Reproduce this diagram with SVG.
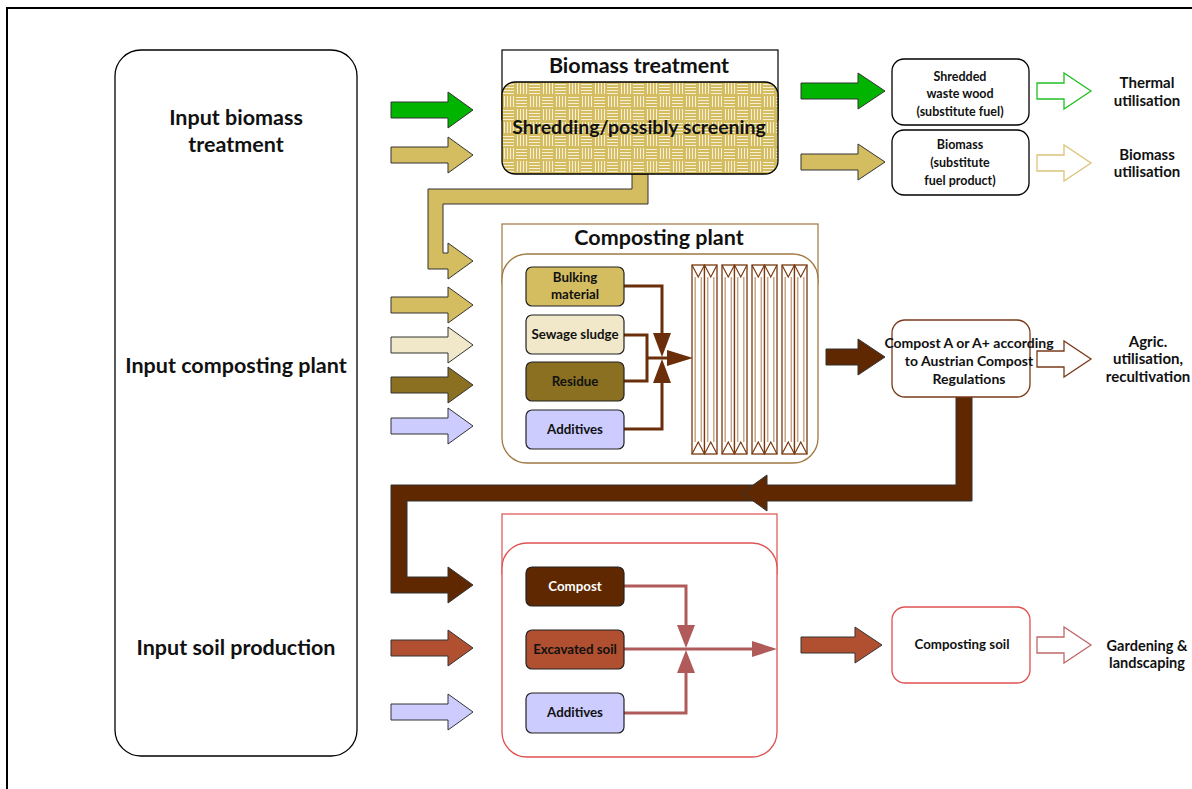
<svg xmlns="http://www.w3.org/2000/svg" xmlns:xlink="http://www.w3.org/1999/xlink" width="1192" height="789" viewBox="0 0 1192 789">
<style>
text{font-family:Lato,"Open Sans","Liberation Sans",sans-serif;font-weight:bold;fill:#111;text-anchor:middle}
.big{font-size:21.5px}
.mid{font-size:15px}
.sm{font-size:13.3px}
.xs{font-size:12.5px}
.blk{stroke:#333;stroke-width:1}
.hollow{fill:#fff;stroke-width:1.3}
.cp{fill:none;stroke:#6b2e0a;stroke-width:3}
.sp{fill:none;stroke:#b05a5a;stroke-width:3}
.ibox{stroke:#222;stroke-width:1.2}
</style>
<defs>
<pattern id="weave" x="502" y="82" width="26" height="26" patternUnits="userSpaceOnUse">
<rect width="26" height="26" fill="#d4bc60"/>
<g stroke="#f7f0d6" stroke-width="1.1">
<path d="M1 2.5H12M1 5.5H12M1 8.5H12M1 11.5H12"/>
<path d="M15.5 1V12M18.5 1V12M21.5 1V12M24.5 1V12"/>
<path d="M2.5 14V25M5.5 14V25M8.5 14V25M11.5 14V25"/>
<path d="M14 15.5H25M14 18.5H25M14 21.5H25M14 24.5H25"/>
</g>
</pattern>
<g id="col">
<rect x="0" y="0" width="12.5" height="189" fill="#fff" stroke="#7a3a10" stroke-width="1.3"/>
<path d="M3.2 12V177M9.3 12V177" stroke="#c8a68a" stroke-width="1.5"/>
<path d="M0 0L6.25 12L12.5 0M0 189L6.25 177L12.5 189" fill="none" stroke="#7a3a10" stroke-width="1.2"/>
</g>
</defs>
<rect width="1192" height="789" fill="#fff"/>
<path d="M1192 8H7V789" fill="none" stroke="#000" stroke-width="2"/>

<g id="input-column">
<rect x="115" y="50" width="242" height="706" rx="26" fill="#fff" stroke="#000" stroke-width="1.3"/>
<text class="big" x="236" y="125">Input biomass</text>
<text class="big" x="236" y="152">treatment</text>
<text class="big" x="236" y="373">Input composting plant</text>
<text class="big" x="236" y="655">Input soil production</text>
</g>

<g id="connectors">
<polygon class="blk" fill="#00b400" points="391,102 448,102 448,92 473,110 448,128 448,118 391,118"/>
<polygon class="blk" fill="#d4bc60" points="391,147 448,147 448,137 473,155 448,173 448,163 391,163"/>
<polygon class="blk" fill="#d4bc60" points="391,297 448,297 448,287 473,305 448,323 448,313 391,313"/>
<polygon class="blk" fill="#f0e8c8" points="391,337 448,337 448,327 473,345 448,363 448,353 391,353"/>
<polygon class="blk" fill="#8a7020" points="391,377 448,377 448,367 473,385 448,403 448,393 391,393"/>
<polygon class="blk" fill="#ccccff" points="391,418 448,418 448,408 473,426 448,444 448,434 391,434"/>
<polygon class="blk" fill="#b05030" points="391,640 448,640 448,630 473,648 448,666 448,656 391,656"/>
<polygon class="blk" fill="#ccccff" points="391,704 448,704 448,694 473,712 448,730 448,720 391,720"/>
<polygon class="blk" fill="#d4bc60" points="632,174 648,174 648,204 443,204 443,253 448,253 448,243 473,261 448,279 448,269 428,269 428,189 632,189"/>
<polygon class="blk" fill="#00b400" points="801,83 858,83 858,73 885,91 858,109 858,99 801,99"/>
<polygon class="blk" fill="#d4bc60" points="801,154 858,154 858,144 885,162 858,180 858,170 801,170"/>
<polygon class="blk" fill="#602800" points="826,349 858,349 858,339 885,357 858,375 858,365 826,365"/>
<polygon class="blk" fill="#602800" points="956,397 972,397 972,501 407,501 407,577 448,577 448,567 473,585 448,603 448,593 391,593 391,485 956,485"/>
<polyline class="blk" fill="#602800" points="767,485 767,475 742,493 767,511 767,501"/>
<polygon class="blk" fill="#b05030" points="801,637 855,637 855,627 882,645 855,663 855,653 801,653"/>
<polygon class="hollow" stroke="#22c022" points="1037,83 1064,83 1064,73 1091,91 1064,109 1064,99 1037,99"/>
<polygon class="hollow" stroke="#dcc47a" points="1037,155 1064,155 1064,145 1091,163 1064,181 1064,171 1037,171"/>
<polygon class="hollow" stroke="#7a3a1a" points="1037,351 1064,351 1064,341 1091,359 1064,377 1064,367 1037,367"/>
<polygon class="hollow" stroke="#c06868" points="1037,637 1064,637 1064,627 1091,645 1064,663 1064,653 1037,653"/>
</g>

<g id="biomass-treatment">
<rect x="502" y="50" width="276" height="70" fill="#fff" stroke="#000" stroke-width="1.2"/>
<text class="big" x="639" y="73">Biomass treatment</text>
<rect x="502" y="82" width="276" height="92" rx="13" fill="url(#weave)" stroke="#000" stroke-width="1.3"/>
<text x="639" y="134" style="font-size:19.5px">Shredding/possibly screening</text>
</g>

<g id="shredded-wood">
<rect x="892" y="59" width="137" height="66" rx="12" fill="#fff" stroke="#000" stroke-width="1.3"/>
<text class="xs" x="960" y="81">Shredded</text>
<text class="xs" x="960" y="98">waste wood</text>
<text class="xs" x="960" y="116">(substitute fuel)</text>
</g>
<g id="biomass-product">
<rect x="892" y="130" width="137" height="65" rx="12" fill="#fff" stroke="#000" stroke-width="1.3"/>
<text class="xs" x="960" y="149">Biomass</text>
<text class="xs" x="960" y="167">(substitute</text>
<text class="xs" x="960" y="185">fuel product)</text>
</g>
<g id="thermal">
<text class="mid" x="1147" y="88">Thermal</text>
<text class="mid" x="1147" y="106">utilisation</text>
</g>
<g id="biomass-util">
<text class="mid" x="1147" y="160">Biomass</text>
<text class="mid" x="1147" y="177">utilisation</text>
</g>

<g id="composting-plant">
<rect x="502" y="224" width="316" height="60" fill="#fff" stroke="#a07840" stroke-width="1.2"/>
<text class="big" x="659" y="245">Composting plant</text>
<rect x="502" y="254" width="316" height="209" rx="25" fill="#fff" stroke="#a07840" stroke-width="1.3"/>
<g id="windrows">
<use xlink:href="#col" x="692" y="265"/><use xlink:href="#col" x="704.5" y="265"/>
<use xlink:href="#col" x="722" y="265"/><use xlink:href="#col" x="734.5" y="265"/>
<use xlink:href="#col" x="752" y="265"/><use xlink:href="#col" x="764.5" y="265"/>
<use xlink:href="#col" x="782" y="265"/><use xlink:href="#col" x="794.5" y="265"/>
</g>
<path class="cp" d="M624 286H662V335M624 335H647V381H624M647 358H669M624 429H662V381"/>
<polygon fill="#6b2e0a" points="653,333 671,333 662,357"/>
<polygon fill="#6b2e0a" points="653,383 671,383 662,359"/>
<polygon fill="#6b2e0a" points="667,350 693,358 667,366"/>
</g>
<g id="bulking">
<rect class="ibox" x="526" y="267" width="98" height="39" rx="6" fill="#d4bc60"/>
<text class="sm" x="575" y="282">Bulking</text>
<text class="sm" x="575" y="299">material</text>
</g>
<g id="sewage">
<rect class="ibox" x="526" y="315" width="98" height="39" rx="6" fill="#f0e8c8"/>
<text class="sm" x="575" y="339">Sewage sludge</text>
</g>
<g id="residue">
<rect class="ibox" x="526" y="362" width="98" height="39" rx="6" fill="#8a7020"/>
<text class="sm" x="575" y="386">Residue</text>
</g>
<g id="additives-1">
<rect class="ibox" x="526" y="410" width="98" height="39" rx="6" fill="#ccccff"/>
<text class="sm" x="575" y="434">Additives</text>
</g>

<g id="compost-a">
<rect x="892" y="320" width="138" height="77" rx="13" fill="#fff" stroke="#7a3a1a" stroke-width="1.3"/>
<text x="969" y="348" style="font-size:14px">Compost A or A+ according</text>
<text x="969" y="366" style="font-size:14px">to Austrian Compost</text>
<text x="969" y="384" style="font-size:14px">Regulations</text>
</g>
<g id="agric">
<text class="mid" x="1148" y="347">Agric.</text>
<text class="mid" x="1148" y="364">utilisation,</text>
<text class="mid" x="1148" y="382">recultivation</text>
</g>

<g id="soil-production">
<rect x="502" y="514" width="275" height="60" fill="#fff" stroke="#e05050" stroke-width="1.2"/>
<rect x="502" y="543" width="275" height="214" rx="25" fill="#fff" stroke="#e05050" stroke-width="1.3"/>
<path class="sp" d="M624 586H686V628M624 649H755M624 713H686V670"/>
<polygon fill="#b05a5a" points="677,625 695,625 686,648"/>
<polygon fill="#b05a5a" points="677,673 695,673 686,650"/>
<polygon fill="#b05a5a" points="752,641 777,649 752,657"/>
</g>
<g id="compost-in">
<rect class="ibox" x="526" y="567" width="98" height="39" rx="6" fill="#602800"/>
<text class="sm" x="575" y="591" style="fill:#fff">Compost</text>
</g>
<g id="excavated">
<rect class="ibox" x="526" y="630" width="98" height="39" rx="6" fill="#b05030"/>
<text class="sm" x="575" y="654">Excavated soil</text>
</g>
<g id="additives-2">
<rect class="ibox" x="526" y="693" width="98" height="40" rx="6" fill="#ccccff"/>
<text class="sm" x="575" y="717">Additives</text>
</g>

<g id="composting-soil">
<rect x="892" y="607" width="138" height="76" rx="13" fill="#fff" stroke="#e05050" stroke-width="1.3"/>
<text class="sm" x="962" y="649">Composting soil</text>
</g>
<g id="gardening">
<text x="1147" y="651" style="font-size:14.5px">Gardening &amp;</text>
<text x="1147" y="668" style="font-size:14.5px">landscaping</text>
</g>
</svg>
